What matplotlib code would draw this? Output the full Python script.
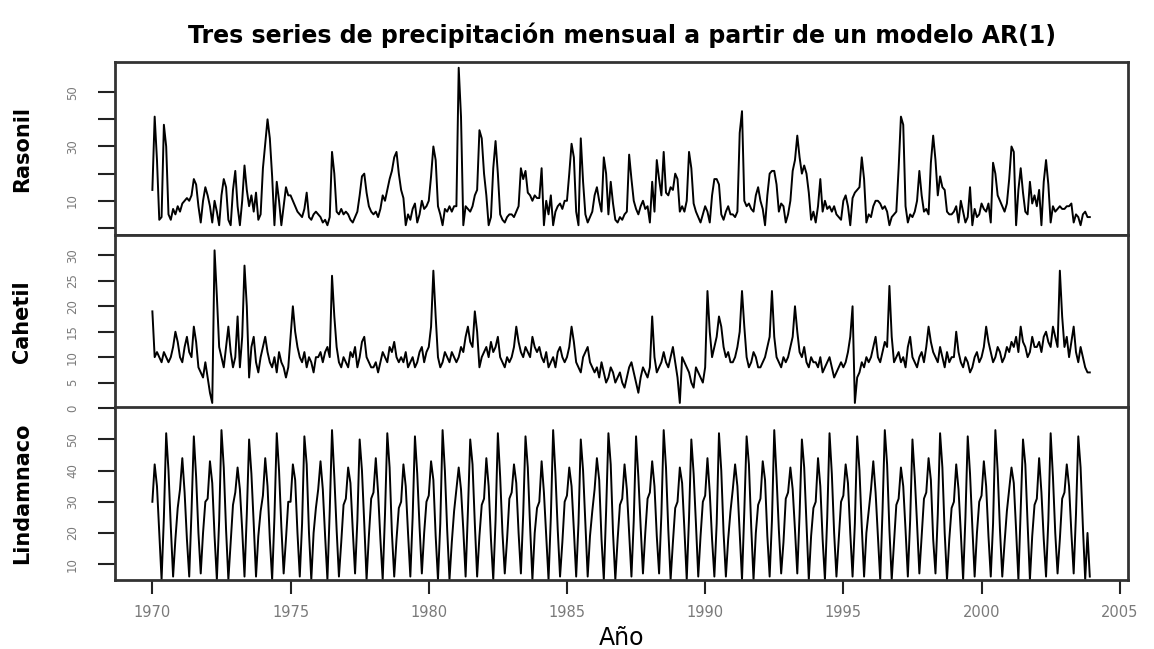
import numpy as np
import matplotlib.pyplot as plt

# monthly values, Jan 1970 - Dec 2003 (one row per year)
rasonil = [
    14, 41, 25, 3, 4, 38, 30, 5, 3, 7, 5, 8,
    6, 9, 10, 11, 10, 12, 18, 16, 8, 2, 10, 15,
    12, 8, 2, 10, 6, 1, 12, 18, 15, 3, 1, 14,
    21, 8, 1, 10, 23, 14, 8, 12, 6, 13, 3, 5,
    22, 31, 40, 33, 19, 1, 17, 10, 1, 8, 15, 12,
    12, 10, 8, 6, 5, 4, 7, 13, 4, 3, 5, 6,
    5, 4, 2, 3, 1, 4, 28, 20, 6, 5, 7, 5,
    6, 5, 3, 2, 4, 6, 12, 19, 20, 13, 8, 6,
    5, 6, 4, 7, 12, 10, 14, 18, 21, 26, 28, 20,
    14, 11, 1, 5, 3, 7, 9, 2, 5, 10, 7, 8,
    10, 19, 30, 25, 8, 5, 1, 7, 6, 8, 6, 8,
    8, 59, 41, 1, 8, 7, 6, 8, 12, 14, 36, 33,
    20, 12, 1, 4, 22, 32, 20, 5, 3, 2, 4, 5,
    5, 4, 6, 8, 22, 18, 21, 13, 12, 10, 12, 11,
    11, 22, 1, 10, 5, 12, 1, 6, 8, 9, 7, 10,
    10, 20, 31, 26, 6, 1, 33, 17, 5, 2, 4, 6,
    12, 15, 10, 6, 26, 20, 5, 17, 9, 3, 2, 4,
    3, 5, 6, 27, 18, 10, 7, 5, 8, 10, 7, 8,
    2, 17, 6, 25, 18, 12, 28, 13, 12, 15, 14, 20,
    18, 6, 8, 6, 10, 28, 22, 9, 6, 4, 2, 5,
    8, 6, 2, 12, 18, 18, 16, 5, 3, 6, 8, 5,
    5, 4, 6, 35, 43, 10, 8, 9, 7, 6, 12, 15,
    10, 7, 1, 12, 20, 21, 21, 16, 6, 9, 8, 2,
    5, 10, 21, 25, 34, 26, 20, 23, 20, 13, 3, 6,
    2, 8, 18, 6, 10, 7, 8, 6, 8, 5, 4, 3,
    10, 12, 8, 1, 11, 13, 14, 15, 26, 18, 2, 5,
    4, 8, 10, 10, 9, 7, 8, 6, 1, 4, 5, 6,
    22, 41, 38, 8, 2, 5, 4, 6, 10, 21, 12, 6,
    7, 5, 24, 34, 25, 12, 19, 15, 14, 6, 5, 5,
    6, 8, 2, 10, 6, 2, 4, 15, 1, 7, 4, 5,
    9, 7, 6, 9, 2, 24, 20, 12, 10, 8, 6, 9,
    18, 30, 28, 1, 14, 22, 13, 6, 5, 17, 9, 12,
    8, 14, 1, 17, 25, 16, 2, 8, 6, 7, 8, 7,
    7, 8, 8, 9, 2, 5, 4, 1, 5, 6, 4, 4,
]

cahetil = [
    19, 10, 11, 10, 9, 11, 10, 9, 10, 12, 15, 13,
    10, 9, 12, 14, 11, 10, 16, 13, 8, 7, 6, 9,
    6, 3, 1, 31, 22, 12, 10, 8, 12, 16, 11, 8,
    10, 18, 8, 14, 28, 20, 6, 12, 14, 9, 7, 10,
    12, 14, 11, 9, 8, 10, 7, 11, 9, 8, 6, 8,
    14, 20, 15, 12, 10, 9, 11, 8, 10, 9, 7, 10,
    10, 11, 9, 11, 12, 10, 26, 18, 12, 9, 8, 10,
    9, 8, 11, 10, 12, 8, 10, 13, 14, 10, 9, 8,
    8, 9, 7, 9, 11, 10, 9, 12, 11, 13, 10, 9,
    10, 9, 11, 8, 9, 10, 8, 9, 11, 12, 9, 11,
    12, 16, 27, 18, 10, 8, 9, 11, 10, 9, 11, 10,
    9, 10, 12, 11, 14, 16, 13, 12, 19, 15, 8, 10,
    11, 12, 10, 13, 11, 12, 14, 10, 9, 8, 10, 9,
    10, 12, 16, 13, 11, 10, 12, 11, 10, 14, 12, 11,
    12, 10, 9, 11, 8, 9, 10, 8, 11, 12, 10, 9,
    10, 12, 16, 13, 9, 8, 7, 10, 11, 12, 9, 8,
    7, 8, 6, 9, 7, 5, 6, 8, 7, 5, 6, 7,
    5, 4, 6, 8, 9, 7, 5, 3, 6, 8, 7, 6,
    8, 18, 10, 7, 8, 9, 11, 9, 8, 10, 12, 9,
    6, 1, 10, 9, 8, 7, 5, 4, 8, 7, 6, 5,
    8, 23, 15, 10, 12, 14, 18, 16, 12, 10, 11, 9,
    9, 10, 12, 15, 23, 16, 10, 8, 9, 11, 10, 8,
    8, 9, 10, 12, 14, 23, 14, 10, 9, 8, 10, 9,
    10, 12, 14, 20, 15, 11, 10, 12, 9, 8, 10, 9,
    9, 8, 10, 7, 8, 9, 10, 8, 6, 7, 8, 9,
    8, 9, 11, 14, 20, 1, 6, 7, 9, 8, 10, 9,
    10, 12, 14, 10, 9, 11, 13, 12, 24, 14, 9, 10,
    11, 9, 10, 8, 12, 14, 10, 9, 8, 10, 11, 9,
    12, 16, 13, 11, 10, 9, 12, 10, 8, 11, 9, 10,
    10, 15, 11, 9, 8, 10, 9, 7, 8, 10, 11, 9,
    10, 12, 16, 13, 11, 9, 10, 12, 11, 9, 10, 12,
    11, 13, 12, 14, 11, 16, 13, 12, 10, 11, 14, 12,
    12, 13, 11, 14, 15, 13, 12, 16, 14, 12, 27, 18,
    12, 14, 10, 13, 16, 11, 9, 12, 10, 8, 7, 7,
]

lindamnaco = [
    30, 42, 35, 20, 5, 25, 52, 40, 22, 6, 18, 28,
    34, 44, 33, 18, 6, 27, 51, 38, 20, 7, 20, 30,
    31, 43, 36, 19, 5, 24, 53, 41, 21, 5, 17, 29,
    33, 41, 34, 21, 6, 26, 50, 39, 23, 6, 19, 27,
    32, 44, 35, 18, 5, 25, 52, 40, 22, 7, 18, 30,
    30, 42, 37, 20, 6, 23, 51, 42, 20, 5, 20, 28,
    34, 43, 34, 19, 5, 27, 53, 38, 21, 6, 17, 29,
    31, 41, 36, 21, 7, 24, 50, 40, 23, 5, 19, 31,
    33, 44, 33, 18, 5, 26, 52, 41, 20, 6, 18, 28,
    30, 42, 35, 20, 6, 25, 51, 39, 22, 7, 20, 30,
    32, 43, 37, 19, 5, 23, 53, 40, 21, 5, 17, 27,
    34, 41, 34, 21, 6, 27, 50, 42, 23, 6, 19, 29,
    31, 44, 35, 18, 5, 24, 52, 38, 20, 7, 18, 31,
    33, 42, 36, 20, 7, 26, 51, 41, 22, 5, 20, 28,
    30, 43, 33, 19, 5, 25, 53, 39, 21, 6, 17, 30,
    32, 41, 35, 21, 6, 23, 50, 40, 23, 6, 19, 27,
    34, 44, 37, 18, 5, 27, 52, 42, 20, 5, 18, 29,
    31, 42, 34, 20, 6, 24, 51, 38, 22, 7, 20, 31,
    33, 43, 35, 19, 7, 26, 53, 41, 21, 5, 17, 28,
    30, 41, 36, 21, 5, 25, 50, 39, 23, 6, 19, 30,
    32, 44, 33, 18, 6, 23, 52, 40, 20, 6, 18, 27,
    34, 42, 35, 20, 5, 27, 51, 42, 22, 5, 20, 29,
    31, 43, 37, 19, 6, 24, 53, 38, 21, 7, 17, 31,
    33, 41, 34, 21, 7, 26, 50, 41, 23, 5, 19, 28,
    30, 44, 35, 18, 5, 25, 52, 39, 20, 6, 18, 30,
    32, 42, 36, 20, 6, 23, 51, 40, 22, 6, 20, 27,
    34, 43, 33, 19, 5, 27, 53, 42, 21, 5, 17, 29,
    31, 41, 35, 21, 6, 24, 50, 38, 23, 7, 19, 31,
    33, 44, 37, 18, 7, 26, 52, 41, 20, 5, 18, 28,
    30, 42, 34, 20, 5, 25, 51, 39, 22, 6, 20, 30,
    32, 43, 35, 19, 6, 23, 53, 40, 21, 6, 17, 27,
    34, 41, 36, 21, 5, 27, 50, 42, 23, 5, 19, 29,
    31, 44, 33, 18, 6, 24, 52, 38, 20, 7, 18, 31,
    33, 42, 35, 20, 7, 26, 51, 41, 22, 5, 20, 6,
]

labels = ['Rasonil', 'Cahetil', 'Lindamnaco']
start_year = 1970
year_ticks = [1970, 1975, 1980, 1985, 1990, 1995, 2000, 2005]
TICK_GREY = '#7a7a7a'


def make_plot():
    series = [rasonil, cahetil, lindamnaco]
    t = start_year + np.arange(len(rasonil)) / 12.0

    fig = plt.figure(figsize=(11.54, 6.49), dpi=100)
    bottoms = [0.6379, 0.3713, 0.1063]
    height = 0.2665
    ylims = [(-2.6, 61.1), (0.9, 34.0), (4.9, 60.4)]
    yticks = [[0, 10, 20, 30, 40, 50], [0, 5, 10, 15, 20, 25, 30], [10, 20, 30, 40, 50]]
    ylabs = [['', '10', '', '30', '', '50'],
             ['0', '5', '10', '15', '20', '25', '30'],
             ['10', '20', '30', '40', '50']]

    axes = []
    for i, y in enumerate(series):
        ax = fig.add_axes([0.0997, bottoms[i], 0.8778, height])
        ax.plot(t, y, color='black', lw=1.4)
        ax.set_xlim(1968.65, 2005.3)
        ax.set_ylim(*ylims[i])
        ax.set_yticks(yticks[i])
        ax.set_yticklabels(ylabs[i], rotation=90, va='center',
                           color=TICK_GREY, fontsize=8.5)
        ax.tick_params(axis='y', length=12, width=1.5, pad=14, color='#222222')
        ax.set_ylabel(labels[i], fontsize=15, fontweight='bold')
        ax.yaxis.set_label_coords(-0.082, 0.5)
        for s in ax.spines.values():
            s.set_linewidth(2)
            s.set_color('#333333')
        if i < 2:
            ax.tick_params(axis='x', bottom=False, labelbottom=False)
        axes.append(ax)

    ax = axes[-1]
    ax.set_xticks(year_ticks)
    ax.set_xticklabels([str(y) for y in year_ticks], color=TICK_GREY, fontsize=10.5)
    ax.tick_params(axis='x', length=10, width=1.5, pad=8, color='#222222')
    ax.set_xlabel('Año', fontsize=17, labelpad=4)

    axes[0].set_title('Tres series de precipitación mensual a partir de un modelo AR(1)',
                      fontsize=17, fontweight='bold', pad=14)

    fig.savefig('out.png', dpi=100)
    plt.close(fig)


if __name__ == '__main__':
    make_plot()
